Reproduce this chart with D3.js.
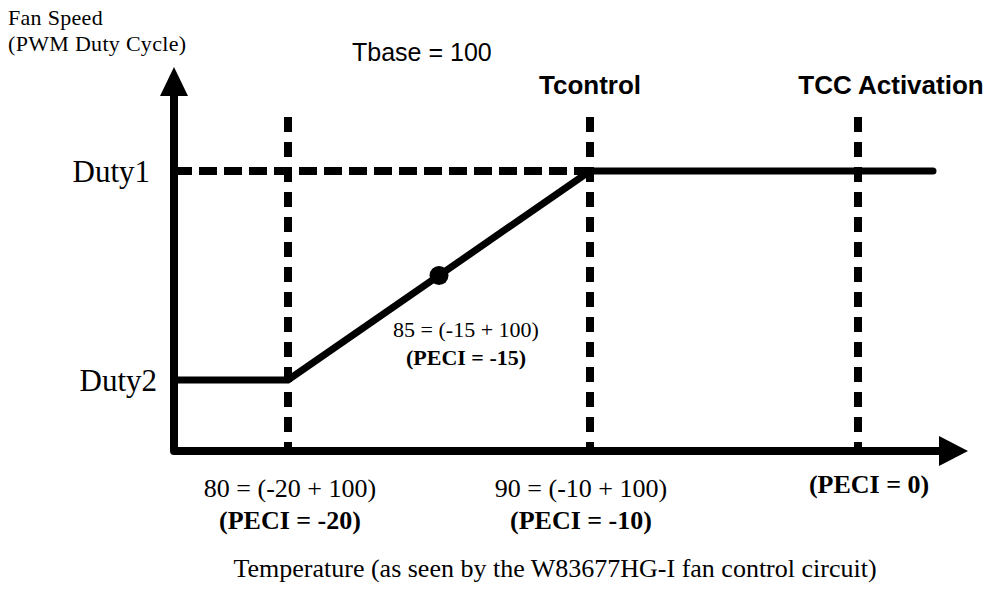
<!DOCTYPE html>
<html>
<head>
<meta charset="utf-8">
<script src="https://cdn.jsdelivr.net/npm/d3@7/dist/d3.min.js"></script>
<style>
  html, body { margin: 0; padding: 0; background: #fff; }
  svg { display: block; }
  .serif { font-family: "Liberation Serif", "Times New Roman", serif; fill: #000; }
  .sans { font-family: "Liberation Sans", Arial, sans-serif; fill: #000; }
</style>
</head>
<body>
<svg id="chart" width="989" height="604"></svg>
<script>
// Fan control breakpoints, expressed as PECI readings relative to Tbase
const tbase = 100;
const peciMarks = [-20, -10, 0];               // vertical guide lines
const tempLabels = ["80 = (-20 + 100)", "90 = (-10 + 100)", ""];
const peciLabels = ["(PECI = -20)", "(PECI = -10)", "(PECI = 0)"];
const topLabels = ["", "Tcontrol", "TCC Activation"];

// Duty levels (Duty2 = low, Duty1 = high)
const dutyNames = ["Duty2", "Duty1"];
const dutyValues = [0, 1];

// Fan response curve: flat at Duty2, linear ramp, flat at Duty1
const rampPeci = [-20, -10];
const rampDuty = [0, 1];

// Highlighted midpoint of the ramp
const midPeci = -15;
const midDuty = 0.5;
const midLabel = "85 = (-15 + 100)";
const midPeciLabel = "(PECI = -15)";

const svg = d3.select("#chart");

// Layout of the schematic axes
const axisX = 174, axisY = 451;
const yTop = 67, xRight = 968;
const lineEnd = 933;
const guideTop = 117;

// Piecewise linear temperature scale through the breakpoints
const x = d3.scaleLinear().domain(peciMarks).range([288, 590, 858]);
const y = d3.scaleLinear().domain(dutyValues).range([380, 171]);

// Vertical dashed guide lines
svg.append("g").selectAll("line")
  .data(peciMarks)
  .join("line")
  .attr("x1", d => x(d)).attr("x2", d => x(d))
  .attr("y1", guideTop).attr("y2", axisY)
  .attr("stroke", "#000")
  .attr("stroke-width", 8)
  .attr("stroke-dasharray", "15,10");

// Horizontal dashed line at Duty1 up to Tcontrol
svg.append("line")
  .attr("x1", axisX).attr("x2", x(rampPeci[1]))
  .attr("y1", y(dutyValues[1])).attr("y2", y(dutyValues[1]))
  .attr("stroke", "#000")
  .attr("stroke-width", 8)
  .attr("stroke-dasharray", "18,7");

// Fan speed curve
const curve = [
  [axisX, y(rampDuty[0])],
  [x(rampPeci[0]), y(rampDuty[0])],
  [x(rampPeci[1]), y(rampDuty[1])],
  [lineEnd, y(rampDuty[1])]
];
svg.append("path")
  .attr("d", d3.line()(curve))
  .attr("fill", "none")
  .attr("stroke", "#000")
  .attr("stroke-width", 7)
  .attr("stroke-linejoin", "miter")
  .attr("stroke-linecap", "round");

// Midpoint marker
svg.append("circle")
  .attr("cx", x(midPeci))
  .attr("cy", y(midDuty))
  .attr("r", 9.5)
  .attr("fill", "#000");

// Axes with arrowheads
svg.append("path")
  .attr("d", `M${axisX},95 L${axisX},${axisY} L940,${axisY}`)
  .attr("fill", "none")
  .attr("stroke", "#000")
  .attr("stroke-width", 8)
  .attr("stroke-linejoin", "round");
svg.append("path")
  .attr("d", `M${axisX},${yTop} L${axisX + 14},96 L${axisX - 14},96 Z`)
  .attr("fill", "#000");
svg.append("path")
  .attr("d", `M${xRight},${axisY} L939,${axisY - 15} L939,${axisY + 15} Z`)
  .attr("fill", "#000");

// Y axis title
svg.append("text").attr("class", "serif")
  .attr("x", 8).attr("y", 25)
  .style("font-size", "22px")
  .style("letter-spacing", "0.3px")
  .text("Fan Speed");
svg.append("text").attr("class", "serif")
  .attr("x", 8).attr("y", 51)
  .style("font-size", "22px")
  .style("letter-spacing", "0.3px")
  .text("(PWM Duty Cycle)");

// Duty level labels
const dutyEnds = [157, 150];
svg.append("g").selectAll("text")
  .data(dutyNames)
  .join("text")
  .attr("class", "serif")
  .attr("x", (d, i) => dutyEnds[i])
  .attr("y", (d, i) => y(dutyValues[i]) + 11)
  .attr("text-anchor", "end")
  .style("font-size", "31px")
  .text(d => d);

// Tbase note
svg.append("text").attr("class", "sans")
  .attr("x", 352).attr("y", 61)
  .style("font-size", "25px")
  .text(`Tbase = ${tbase}`);

// Labels above the guides
const topShift = [0, 0, 33];
svg.append("g").selectAll("text")
  .data(peciMarks)
  .join("text")
  .attr("class", "sans")
  .attr("x", (d, i) => x(d) + topShift[i])
  .attr("y", 94)
  .attr("text-anchor", "middle")
  .style("font-size", "26px")
  .style("font-weight", "bold")
  .text((d, i) => topLabels[i]);

// Labels below the axis
const bottomShift = [2, -9, 11];
const bottom = svg.append("g");
bottom.selectAll("text.temp")
  .data(peciMarks)
  .join("text")
  .attr("class", "serif temp")
  .attr("x", (d, i) => x(d) + bottomShift[i])
  .attr("y", 497)
  .attr("text-anchor", "middle")
  .style("font-size", "26px")
  .text((d, i) => tempLabels[i]);
bottom.selectAll("text.peci")
  .data(peciMarks)
  .join("text")
  .attr("class", "serif peci")
  .attr("x", (d, i) => x(d) + bottomShift[i])
  .attr("y", (d, i) => tempLabels[i] ? 529 : 493)
  .attr("text-anchor", "middle")
  .style("font-size", "26px")
  .style("font-weight", "bold")
  .text((d, i) => peciLabels[i]);

// Midpoint labels
svg.append("text").attr("class", "serif")
  .attr("x", x(midPeci) + 27).attr("y", 337)
  .attr("text-anchor", "middle")
  .style("font-size", "22px")
  .text(midLabel);
svg.append("text").attr("class", "serif")
  .attr("x", x(midPeci) + 27).attr("y", 365)
  .attr("text-anchor", "middle")
  .style("font-size", "22px")
  .style("font-weight", "bold")
  .text(midPeciLabel);

// X axis title
svg.append("text").attr("class", "serif")
  .attr("x", 555).attr("y", 577)
  .attr("text-anchor", "middle")
  .style("font-size", "26px")
  .text("Temperature (as seen by the W83677HG-I fan control circuit)");
</script>
</body>
</html>
